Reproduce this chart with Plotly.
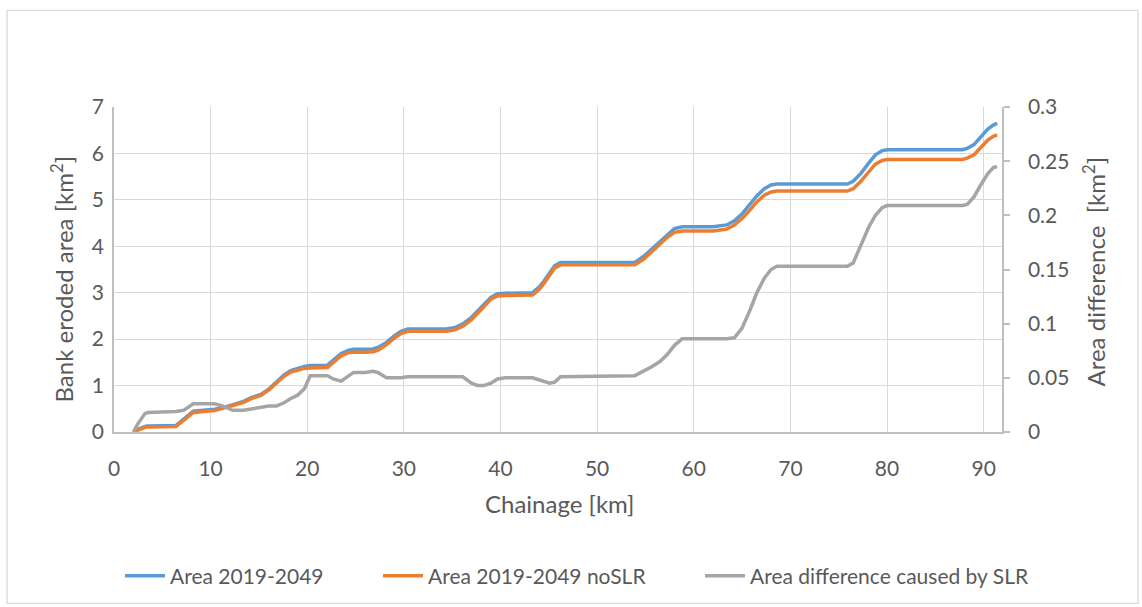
import plotly.graph_objects as go

# Chainage along the river [km]
chainage = [2.0, 2.5, 3.2, 3.5, 6.4, 7.2, 8.2, 10.4, 11.2, 12.3, 13.4, 14.2, 15.2, 16.0,
            16.8, 17.6, 18.3, 19.0, 19.7, 20.3, 22.1, 22.7, 23.5, 24.3, 24.8, 26.0,
            26.8, 27.3, 28.2, 29.0, 29.7, 30.4, 34.4, 35.3, 36.1, 37.0, 37.6, 38.3,
            39.0, 39.7, 40.5, 43.3, 44.0, 44.5, 45.1, 45.6, 46.2, 53.9, 54.8, 55.6,
            56.5, 57.3, 58.0, 58.8, 62.0, 63.4, 64.2, 65.0, 65.8, 66.5, 67.3, 68.0,
            68.6, 75.9, 76.5, 77.3, 78.1, 78.8, 79.5, 80.0, 87.8, 88.3, 89.0, 89.7,
            90.4, 91.0, 91.4]

# Cumulative bank eroded area with sea level rise [km2]
area_slr = [0.00, 0.06, 0.12, 0.13, 0.14, 0.27, 0.45, 0.49, 0.52, 0.59, 0.66, 0.74, 0.81, 0.92,
            1.07, 1.23, 1.32, 1.37, 1.41, 1.43, 1.44, 1.55, 1.69, 1.76, 1.78, 1.78,
            1.79, 1.82, 1.93, 2.07, 2.17, 2.22, 2.22, 2.25, 2.33, 2.47, 2.60, 2.76,
            2.90, 2.98, 2.99, 3.00, 3.12, 3.25, 3.43, 3.58, 3.65, 3.65, 3.78, 3.93,
            4.11, 4.27, 4.38, 4.42, 4.42, 4.46, 4.55, 4.70, 4.89, 5.08, 5.24, 5.32,
            5.34, 5.34, 5.40, 5.57, 5.79, 5.97, 6.06, 6.08, 6.08, 6.11, 6.19, 6.35,
            6.52, 6.61, 6.65]

# Cumulative bank eroded area without sea level rise [km2]
area_noslr = [0.00, 0.05, 0.10, 0.11, 0.12, 0.25, 0.42, 0.46, 0.50, 0.57, 0.64, 0.72, 0.79, 0.90,
              1.05, 1.20, 1.29, 1.34, 1.37, 1.38, 1.39, 1.50, 1.64, 1.71, 1.72, 1.72,
              1.73, 1.76, 1.88, 2.02, 2.12, 2.17, 2.17, 2.20, 2.28, 2.42, 2.56, 2.72,
              2.86, 2.93, 2.94, 2.95, 3.07, 3.20, 3.38, 3.53, 3.60, 3.60, 3.72, 3.87,
              4.04, 4.20, 4.30, 4.33, 4.33, 4.37, 4.46, 4.60, 4.78, 4.95, 5.10, 5.17,
              5.19, 5.19, 5.24, 5.40, 5.60, 5.77, 5.85, 5.87, 5.87, 5.90, 5.97, 6.12,
              6.28, 6.37, 6.40]

# Difference between the two scenarios [km2]
area_diff = [0.000, 0.008, 0.017, 0.018, 0.019, 0.020, 0.026, 0.026, 0.024, 0.020, 0.020, 0.021,
             0.023, 0.024, 0.024, 0.027, 0.031, 0.034, 0.040, 0.052, 0.052, 0.049,
             0.047, 0.052, 0.055, 0.055, 0.056, 0.055, 0.050, 0.050, 0.050, 0.051,
             0.051, 0.051, 0.051, 0.045, 0.043, 0.043, 0.045, 0.049, 0.050, 0.050,
             0.048, 0.047, 0.045, 0.046, 0.051, 0.052, 0.056, 0.060, 0.065, 0.072,
             0.080, 0.086, 0.086, 0.086, 0.087, 0.096, 0.112, 0.128, 0.142, 0.150,
             0.153, 0.153, 0.156, 0.172, 0.189, 0.200, 0.207, 0.209, 0.209, 0.210,
             0.217, 0.228, 0.238, 0.244, 0.245]

series_names = ["Area 2019-2049", "Area 2019-2049 noSLR", "Area difference caused by SLR"]

x_ticks = [0, 10, 20, 30, 40, 50, 60, 70, 80, 90]
y_left_ticks = [0, 1, 2, 3, 4, 5, 6, 7]
y_right_ticks = [0, 0.05, 0.1, 0.15, 0.2, 0.25, 0.3]
y_right_labels = ["0", "0.05", "0.1", "0.15", "0.2", "0.25", "0.3"]

FONT = "Lato"
TXT = "#595959"
GRID = "#d9d9d9"
AXIS = "#bfbfbf"
TICK_SIZE = 21
TITLE_SIZE = 24

W, H = 1142, 607
L, R, T, B = 114, 1002, 107, 433


def px(x):
    return (x - L) / (R - L)


def py(y):
    return (B - y) / (B - T)


fig = go.Figure()
fig.add_trace(go.Scatter(x=chainage, y=area_slr, name=series_names[0], mode="lines",
                         line=dict(color="#5B9BD5", width=3.5), legend="legend"))
fig.add_trace(go.Scatter(x=chainage, y=area_noslr, name=series_names[1], mode="lines",
                         line=dict(color="#ED7D31", width=3.5), legend="legend2"))
fig.add_trace(go.Scatter(x=chainage, y=area_diff, name=series_names[2], mode="lines",
                         line=dict(color="#A5A5A5", width=3.5), yaxis="y2", legend="legend3"))


def legend_box(left_px):
    return dict(orientation="h", x=px(left_px), xanchor="left", y=py(576), yanchor="middle",
                font=dict(size=TICK_SIZE, color=TXT), itemwidth=40, bgcolor="rgba(0,0,0,0)")


fig.update_layout(
    width=W, height=H,
    margin=dict(l=L, r=W - R, t=T, b=H - B),
    paper_bgcolor="white", plot_bgcolor="white",
    font=dict(family=FONT, size=TICK_SIZE, color=TXT),
    showlegend=True,
    legend=legend_box(120),
    legend2=legend_box(378),
    legend3=legend_box(700),
    xaxis=dict(range=[0, 91.9], tickvals=x_ticks, showgrid=True, gridcolor=GRID, gridwidth=1.3,
               showline=True, linecolor=AXIS, linewidth=1.5, zeroline=False, ticks="",
               ticklabelstandoff=17, tickfont=dict(size=TICK_SIZE, color=TXT)),
    yaxis=dict(range=[0, 7], tickvals=y_left_ticks, showgrid=True, gridcolor=GRID, gridwidth=1.3,
               showline=True, linecolor=AXIS, linewidth=1.5, zeroline=False, ticks="",
               ticklabelstandoff=4, tickfont=dict(size=TICK_SIZE, color=TXT)),
    yaxis2=dict(range=[0, 0.3], tickvals=y_right_ticks, ticktext=y_right_labels, overlaying="y",
                side="right", showgrid=False, showline=True, linecolor=AXIS, linewidth=1.5,
                zeroline=False, ticks="outside", ticklen=6, tickcolor=AXIS, tickwidth=1.5,
                ticklabelstandoff=14, tickfont=dict(size=TICK_SIZE, color=TXT)),
    shapes=[dict(type="rect", xref="paper", yref="paper", x0=px(7), x1=px(1138),
                 y0=py(605), y1=py(10), line=dict(color=GRID, width=1.3), layer="below")],
    annotations=[
        dict(text="Bank eroded area [km<sup>2</sup>]", xref="paper", yref="paper",
             x=px(62), y=py(280), textangle=-90, showarrow=False,
             xanchor="center", yanchor="middle", font=dict(size=TITLE_SIZE, color=TXT)),
        dict(text="Area difference  [km<sup>2</sup>]", xref="paper", yref="paper",
             x=px(1094), y=py(272), textangle=-90, showarrow=False,
             xanchor="center", yanchor="middle", font=dict(size=TITLE_SIZE, color=TXT)),
        dict(text="Chainage [km]", xref="paper", yref="paper",
             x=px(559), y=py(505), showarrow=False,
             xanchor="center", yanchor="middle", font=dict(size=TITLE_SIZE, color=TXT)),
    ],
)

fig.write_html("out.html")
